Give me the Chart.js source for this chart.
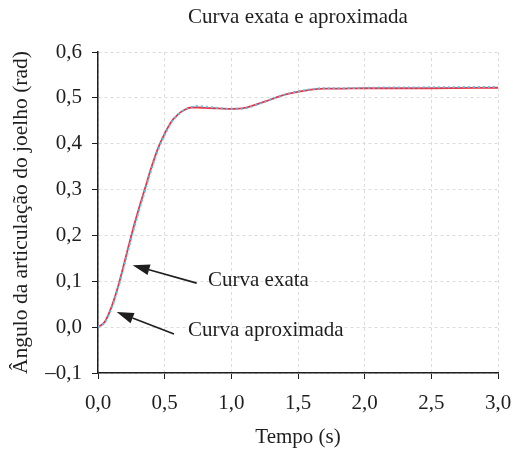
<!DOCTYPE html>
<html>
<head>
<meta charset="utf-8">
<script src="https://cdn.jsdelivr.net/npm/chart.js@4.4.1/dist/chart.umd.min.js"></script>
<style>
  html, body { margin: 0; padding: 0; background: #fff; }
  #wrap { width: 513px; height: 452px; }
</style>
</head>
<body>
<div id="wrap"><canvas id="grafico" width="513" height="452"></canvas></div>
<script>
/* ---- dados ---- */
const tempoExata = [0, 0.05, 0.10, 0.15, 0.20, 0.25, 0.30, 0.35, 0.40, 0.45, 0.50, 0.55, 0.60, 0.65, 0.70, 0.75, 0.80, 0.90, 1.00, 1.10, 1.20, 1.30, 1.40, 1.50, 1.60, 1.70, 1.80, 2.00, 2.50, 3.00];
const curvaExata = [0, 0.011, 0.043, 0.088, 0.143, 0.200, 0.252, 0.300, 0.348, 0.390, 0.422, 0.448, 0.464, 0.474, 0.479, 0.479, 0.478, 0.477, 0.476, 0.478, 0.487, 0.497, 0.507, 0.513, 0.518, 0.520, 0.520, 0.521, 0.521, 0.522];

const tempoAprox = [0, 0.05, 0.10, 0.15, 0.20, 0.25, 0.30, 0.35, 0.40, 0.45, 0.50, 0.55, 0.60, 0.65, 0.70, 0.75, 0.80, 0.90, 1.00, 1.10, 1.20, 1.30, 1.40, 1.50, 1.60, 1.70, 1.80, 2.00, 2.50, 3.00];
const curvaAprox = [0, 0.010, 0.040, 0.085, 0.138, 0.194, 0.246, 0.295, 0.343, 0.386, 0.419, 0.446, 0.463, 0.474, 0.480, 0.482, 0.481, 0.478, 0.476, 0.477, 0.486, 0.497, 0.507, 0.514, 0.519, 0.521, 0.521, 0.522, 0.523, 0.524];

const xTicks = [0, 0.5, 1.0, 1.5, 2.0, 2.5, 3.0];
const yTicks = [-0.1, 0, 0.1, 0.2, 0.3, 0.4, 0.5, 0.6];

// setas: texto, ponta (t, ângulo), cauda (t, ângulo), posição do texto
const rotulos = ["Curva exata", "Curva aproximada"];
const pontas = [[0.26, 0.135], [0.14, 0.033]];
const caudas = [[0.74, 0.096], [0.57, -0.015]];
const posTexto = [[0.825, 0.102], [0.675, -0.007]];

const FONTE = "'Liberation Serif', 'Times New Roman', serif";
const TINTA = "#1e1e1e";

function fmt(v){
  let s = Math.abs(v).toFixed(1).replace(".", ",");
  return v < -1e-9 ? "\u2013" + s : s;
}

/* ---- título e setas desenhados à mão ---- */
const anotacoes = {
  id: "anotacoes",
  afterDatasetsDraw(chart){
    const {ctx, chartArea, scales} = chart;
    const xs = scales.x, ys = scales.y;
    ctx.save();
    ctx.fillStyle = TINTA;
    ctx.font = "21px " + FONTE;
    ctx.textAlign = "center";
    ctx.textBaseline = "middle";
    ctx.fillText("Curva exata e aproximada", (chartArea.left + chartArea.right) / 2, 17);

    ctx.textAlign = "left";
    ctx.font = "21px " + FONTE;
    for (let i = 0; i < rotulos.length; i++) {
      const px = xs.getPixelForValue(pontas[i][0]), py = ys.getPixelForValue(pontas[i][1]);
      const cx = xs.getPixelForValue(caudas[i][0]), cy = ys.getPixelForValue(caudas[i][1]);
      const ang = Math.atan2(py - cy, px - cx);
      const len = 17, half = 5.5;
      const bx = px - len * Math.cos(ang), by = py - len * Math.sin(ang);
      ctx.strokeStyle = TINTA;
      ctx.lineWidth = 1.6;
      ctx.beginPath();
      ctx.moveTo(cx, cy);
      ctx.lineTo(bx, by);
      ctx.stroke();
      ctx.beginPath();
      ctx.moveTo(px, py);
      ctx.lineTo(bx + half * Math.sin(ang), by - half * Math.cos(ang));
      ctx.lineTo(bx - half * Math.sin(ang), by + half * Math.cos(ang));
      ctx.closePath();
      ctx.fill();
      ctx.fillText(rotulos[i], xs.getPixelForValue(posTexto[i][0]), ys.getPixelForValue(posTexto[i][1]));
    }
    ctx.restore();
  }
};

const pares = (ts, vs) => ts.map((t, i) => ({x: t, y: vs[i]}));

new Chart(document.getElementById("grafico"), {
  type: "line",
  data: {
    datasets: [
      {
        label: "Curva exata",
        data: pares(tempoExata, curvaExata),
        borderColor: "#ee3140",
        borderWidth: 1.8,
        pointRadius: 0,
        cubicInterpolationMode: "monotone",
        order: 2
      },
      {
        label: "Curva aproximada",
        data: pares(tempoAprox, curvaAprox),
        borderColor: "#5bbfe6",
        borderWidth: 2,
        borderDash: [2, 3],
        pointRadius: 0,
        cubicInterpolationMode: "monotone",
        order: 1
      }
    ]
  },
  options: {
    responsive: false,
    animation: false,
    layout: { padding: { top: 52, right: 15, left: 0, bottom: 0 } },
    plugins: {
      legend: { display: false },
      tooltip: { enabled: false }
    },
    scales: {
      x: {
        type: "linear",
        min: 0, max: 3,
        afterBuildTicks: s => { s.ticks = xTicks.map(v => ({value: v})); },
        afterFit: s => { s.height = 79; s.paddingRight = 0; s.paddingLeft = 0; },
        grid: { color: "#dcdcdc", tickColor: TINTA, tickLength: 6, tickBorderDash: [], lineWidth: 1 },
        border: { color: TINTA, width: 1.5, dash: [3, 3] },
        ticks: { color: TINTA, padding: 12, font: { family: FONTE, size: 21 }, callback: v => fmt(v), maxRotation: 0 },
        title: { display: true, text: "Tempo (s)", color: TINTA, font: { family: FONTE, size: 21 }, padding: { top: 0, bottom: 2 } }
      },
      y: {
        min: -0.1, max: 0.6,
        afterBuildTicks: s => { s.ticks = yTicks.map(v => ({value: v})); },
        afterFit: s => { s.width = 98; s.paddingTop = 0; s.paddingBottom = 0; },
        grid: { color: "#dcdcdc", tickColor: TINTA, tickLength: 6, tickBorderDash: [], lineWidth: 1 },
        border: { color: TINTA, width: 1.5, dash: [3, 3] },
        ticks: { color: TINTA, padding: 10, font: { family: FONTE, size: 21 }, callback: v => fmt(v) },
        title: { display: true, text: "Ângulo da articulação do joelho (rad)", color: TINTA, font: { family: FONTE, size: 21.5 }, padding: { top: 8, bottom: 0 } }
      }
    }
  },
  plugins: [anotacoes]
});
</script>
</body>
</html>
